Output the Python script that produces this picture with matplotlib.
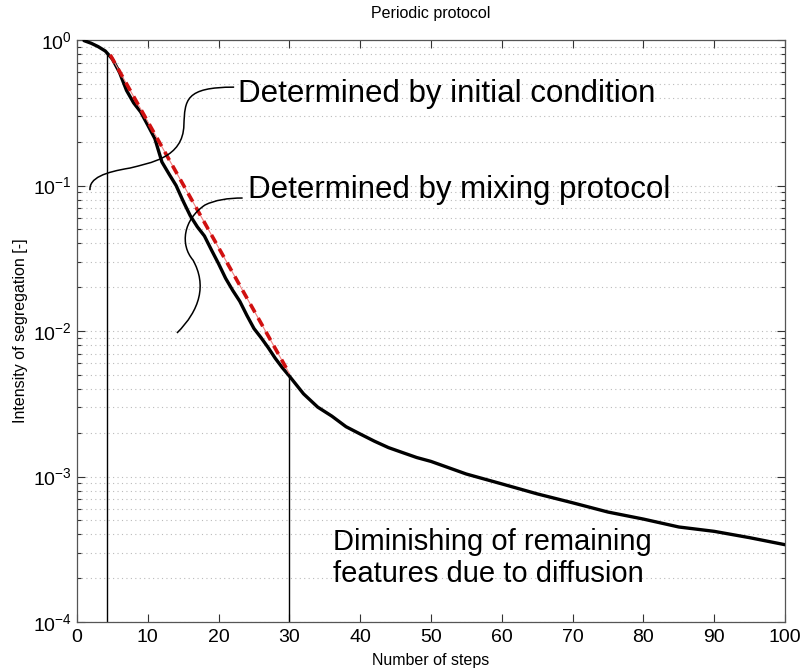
import numpy as np
import matplotlib.pyplot as plt
from matplotlib.path import Path
from matplotlib.patches import PathPatch
from matplotlib.ticker import LogLocator, FixedLocator, NullFormatter

plt.rcParams['font.family'] = ['Liberation Sans', 'DejaVu Sans']
plt.rcParams['mathtext.fontset'] = 'custom'
plt.rcParams['mathtext.rm'] = 'Liberation Sans'
plt.rcParams['mathtext.it'] = 'Liberation Sans:italic'

# intensity of segregation vs. number of steps
steps = [1, 2, 3, 4, 5, 6, 7, 8, 9, 10, 11, 12, 13, 14, 15, 16, 17, 18, 19, 20,
         21, 22, 23, 24, 25, 26, 27, 28, 29, 30, 32, 34, 36, 38, 40, 42, 44, 46,
         48, 50, 55, 60, 65, 70, 75, 80, 85, 90, 95, 100]
intensity = [0.99, 0.95, 0.90, 0.84, 0.74, 0.60, 0.45, 0.37, 0.32, 0.26,
             0.21, 0.145, 0.12, 0.10, 0.078, 0.062, 0.052, 0.045, 0.036, 0.029,
             0.023, 0.019, 0.016, 0.0128, 0.0104, 0.0090, 0.0077, 0.0065, 0.0056, 0.0049,
             0.0037, 0.0030, 0.0026, 0.0022, 0.00196, 0.00175, 0.00158, 0.00146,
             0.00135, 0.00127, 0.00104, 0.00089, 0.00076, 0.00066, 0.00057,
             0.00051, 0.00045, 0.00042, 0.00038, 0.00034]

# exponential-decay fit over the protocol-dominated range
fit_steps = [4.7, 30]
fit_intensity = [0.79, 0.0051]

# boundaries between the three regimes
regime_steps = [4.2, 30]

fig = plt.figure(figsize=(8.01, 6.70), dpi=100)
ax = fig.add_axes([0.0961, 0.0716, 0.8839, 0.8687])

ax.set_yscale('log')
ax.set_xlim(0, 100)
ax.set_ylim(1e-4, 1)

# horizontal dotted grid at every decade sub-tick
ax.yaxis.set_major_locator(LogLocator(base=10, numticks=10))
ax.yaxis.set_minor_locator(LogLocator(base=10, subs=np.arange(2, 10), numticks=10))
ax.yaxis.set_minor_formatter(NullFormatter())
ax.xaxis.set_major_locator(FixedLocator(np.arange(0, 101, 10)))
ax.grid(True, which='both', axis='y', linestyle=(0, (1, 3)), color='#bbbbbb', lw=0.8)

log_int = np.log10(intensity)
for xs in regime_steps:
    top = 10 ** np.interp(xs, steps, log_int)
    ax.vlines(xs, 1e-4, top, color='black', lw=1.0, zorder=2)

ax.plot(steps, intensity, color='black', lw=2.4, zorder=3, solid_capstyle='round')
ax.plot(fit_steps, fit_intensity, color='#f08080', lw=0.8, zorder=4)
ax.plot(fit_steps, fit_intensity, color='#d01010', lw=2.6, zorder=4,
        linestyle=(0, (2.6, 1.8)))

ax.tick_params(which='both', direction='in', top=True, right=True,
               colors='#333333', labelcolor='black', labelsize=14)
ax.tick_params(which='major', length=6, width=0.8)
ax.tick_params(which='minor', length=3, width=0.8)
ax.tick_params(axis='x', pad=5)
for s in ax.spines.values():
    s.set_color('#555555')
    s.set_linewidth(0.9)

ax.set_title('Periodic protocol', fontsize=11.5, pad=16)
ax.set_xlabel('Number of steps', fontsize=11.5, labelpad=5)
ax.set_ylabel('Intensity of segregation [-]', fontsize=11.5, labelpad=4)

# freehand leader lines for the annotations (axes fraction coordinates)
leader1 = Path(
    [(0.0184, 0.742), (0.017, 0.763), (0.0395, 0.773), (0.0749, 0.780),
     (0.103, 0.789), (0.150, 0.797), (0.151, 0.854),
     (0.1525, 0.897), (0.1525, 0.919), (0.222, 0.919)],
    [Path.MOVETO, Path.CURVE4, Path.CURVE4, Path.CURVE4,
     Path.CURVE4, Path.CURVE4, Path.CURVE4,
     Path.CURVE4, Path.CURVE4, Path.CURVE4])
leader2 = Path(
    [(0.1412, 0.4966), (0.1737, 0.536), (0.1836, 0.579), (0.1638, 0.622),
     (0.1455, 0.648), (0.1497, 0.691), (0.1808, 0.7165),
     (0.195, 0.725), (0.213, 0.7285), (0.234, 0.7285)],
    [Path.MOVETO, Path.CURVE4, Path.CURVE4, Path.CURVE4,
     Path.CURVE4, Path.CURVE4, Path.CURVE4,
     Path.CURVE4, Path.CURVE4, Path.CURVE4])
for p in (leader1, leader2):
    ax.add_patch(PathPatch(p, transform=ax.transAxes, fill=False,
                           edgecolor='black', lw=1.1, zorder=5))

ax.text(0.227, 0.907, 'Determined by initial condition', transform=ax.transAxes,
        fontsize=22.5, va='center', ha='left', zorder=6)
ax.text(0.2415, 0.742, 'Determined by mixing protocol', transform=ax.transAxes,
        fontsize=22.5, va='center', ha='left', zorder=6)
ax.text(0.362, 0.110, 'Diminishing of remaining\nfeatures due to diffusion',
        transform=ax.transAxes, fontsize=21, va='center', ha='left',
        linespacing=1.22, zorder=6)

fig.savefig('out.png', dpi=100)
